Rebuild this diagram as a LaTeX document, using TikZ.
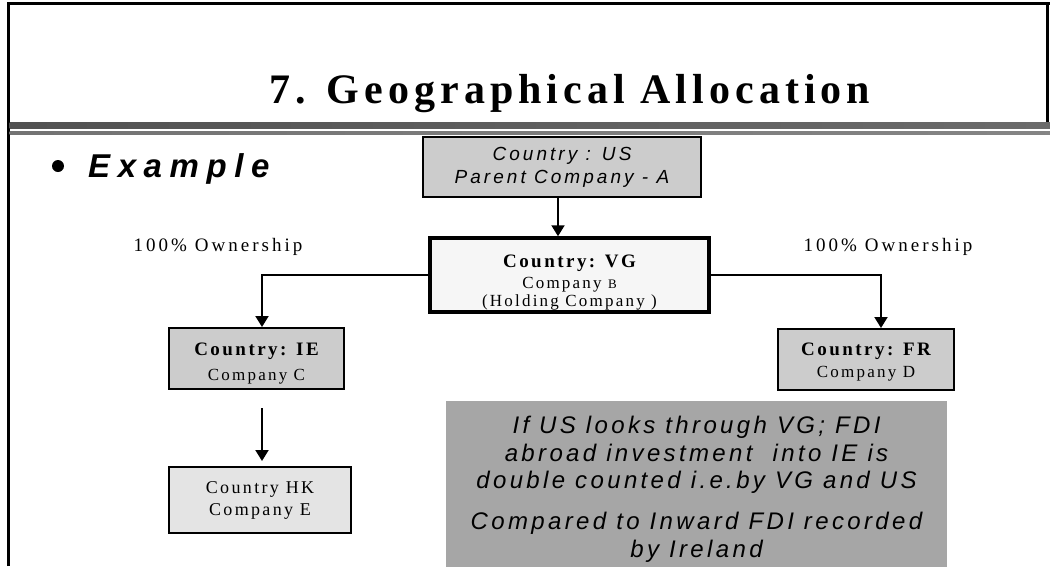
\documentclass[tikz,border=0pt]{standalone}
\usepackage{fontspec}
\setmainfont{Liberation Serif}
\newfontfamily\ttlfont[LetterSpace=12]{Liberation Serif}
\newfontfamily\exfont[LetterSpace=23]{Liberation Sans}
\newfontfamily\lblfont[LetterSpace=16]{Liberation Serif}
\newfontfamily\sersp[LetterSpace=13]{Liberation Serif}
\newfontfamily\ussans[LetterSpace=16]{Liberation Sans}
\newfontfamily\notesans[LetterSpace=14]{Liberation Sans}
\usetikzlibrary{arrows.meta}
\definecolor{boxgray}{HTML}{CCCCCC}
\definecolor{ltgray}{HTML}{E4E4E4}
\definecolor{vgfill}{HTML}{F6F6F6}
\definecolor{notegray}{HTML}{A6A6A6}
\tikzset{
  ent/.style={draw=black, line width=2pt, fill=boxgray, inner sep=0pt, align=center},
  conn/.style={line width=2pt, -{Triangle[width=13pt,length=11pt]}},
  lbl/.style={inner sep=0pt, font=\lblfont\fontsize{19}{22}\selectfont},
  frameline/.style={line width=3pt, black}
}
\begin{document}
\begin{tikzpicture}[x=1pt,y=-1pt]
\useasboundingbox (0,0) rectangle (1050,566);
% frame
\draw[frameline] (8,566) -- (8,3) -- (1050,3);
\draw[frameline] (1047,3) -- (1047,122);
% title bar
\shade[left color=black!68, middle color=black!28, right color=black!58] (9.5,122) rectangle (1050,128);
\shade[left color=black!55, middle color=black!30, right color=black!48] (9.5,131) rectangle (1050,134);
% title
\node[anchor=base, inner sep=0pt, font=\ttlfont\bfseries\fontsize{42}{48}\selectfont] (title) at (570,103) {7. Geographical Allocation};
% bullet
\fill (58,166) circle (6);
\node[anchor=base west, inner sep=0pt, font=\exfont\bfseries\itshape\fontsize{33}{38}\selectfont] (ex) at (88,177) {Example};
% entities
\node[ent, minimum width=278pt, minimum height=60pt, font=\ussans\itshape\fontsize{19}{23}\selectfont] (us) at (562,167) {Country : US\\Parent Company - A};
\node[ent, fill=vgfill, line width=3.5pt, minimum width=279pt, minimum height=74pt, font=\sersp\fontsize{17}{18}\selectfont] (vg) at (569.5,275) {{\rule{0pt}{28pt}\bfseries\fontsize{19}{22}\selectfont Country: VG}\\[3pt]Company {\fontsize{13}{18}\selectfont B}\\(Holding Company )};
\node[ent, minimum width=175pt, minimum height=61pt, font=\sersp\fontsize{17}{25}\selectfont] (ie) at (256.5,358.5) {{\rule{0pt}{22pt}\bfseries\fontsize{19}{25}\selectfont Country: IE}\\Company C};
\node[ent, minimum width=176pt, minimum height=61pt, font=\sersp\fontsize{17}{22}\selectfont] (fr) at (866,359.5) {{\rule{0pt}{17pt}\bfseries\fontsize{19}{22}\selectfont Country: FR}\\Company D};
\node[ent, fill=ltgray, minimum width=182pt, minimum height=66pt, font=\sersp\fontsize{18}{22}\selectfont] (hk) at (260,500) {Country HK\\Company E};
% labels
\node[lbl] (ownl) at (218,247) {100\% Ownership};
\node[lbl] (ownr) at (888,247) {100\% Ownership};
% note
\node[fill=notegray, inner sep=0pt, minimum width=501pt, minimum height=177pt, align=center, font=\notesans\itshape\fontsize{24}{27.5}\selectfont] (note) at (696.5,489.5) {If US looks through VG; FDI\\abroad investment\ \ into IE is\\double counted i.e.by VG and US\\[13.5pt]Compared to Inward FDI recorded\\by Ireland};
% connectors
\draw[conn] (us.south -| 558,0) -- (vg.north -| 558,0);
\draw[conn] (vg.west) -| ([xshift=5.5pt]ie.north);
\draw[conn] (vg.east) -| ([xshift=15pt]fr.north);
\draw[conn, shorten <=18pt, shorten >=5pt] ([xshift=5.5pt]ie.south) -- ([xshift=5.5pt]ie.south |- hk.north);
\end{tikzpicture}
\end{document}
